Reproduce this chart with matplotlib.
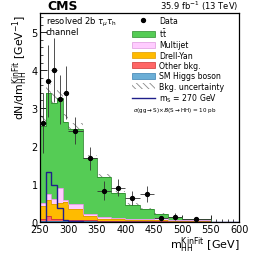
import numpy as np
import matplotlib
matplotlib.use("Agg")
import matplotlib.pyplot as plt
from matplotlib.patches import Patch
from matplotlib.lines import Line2D

# ---------------- data ----------------
edges = [250, 260, 270, 280, 290, 300, 325, 350, 375, 400, 425, 450, 475, 500, 550, 600]
higgs = [0.01, 0.01, 0.01, 0.01, 0.01, 0.01, 0.01, 0.005, 0.005, 0.005, 0.005, 0.003, 0.003, 0.002, 0.0]
other = [0.06, 0.13, 0.05, 0.06, 0.03, 0.03, 0.02, 0.015, 0.015, 0.01, 0.01, 0.007, 0.007, 0.003, 0.0]
dy = [0.35, 0.44, 0.40, 0.43, 0.49, 0.29, 0.12, 0.06, 0.05, 0.035, 0.035, 0.02, 0.013, 0.005, 0.0]
multijet = [0.08, 0.14, 0.14, 0.38, 0.04, 0.13, 0.06, 0.03, 0.03, 0.02, 0.02, 0.06, 0.03, 0.02, 0.0]
ttbar = [2.03, 2.67, 2.52, 2.39, 2.07, 1.99, 1.47, 1.08, 0.65, 0.37, 0.25, 0.11, 0.077, 0.03, 0.0]
bkg_unc = [0.3, 0.25, 0.28, 0.2, 0.2, 0.15, 0.07, 0.06, 0.05, 0.04, 0.03, 0.03, 0.02, 0.02, 0.0]
signal = [0.0, 1.3, 0.97, 0.35, 0.03, 0.01, 0.0, 0.0, 0.0, 0.0, 0.0, 0.0, 0.0, 0.0, 0.0]
data_vals = [2.6, 3.7, 4.0, 3.23, 3.4, 2.4, 1.67, 0.82, 0.90, 0.62, 0.73, 0.09, 0.13, 0.07]
data_err = [0.8, 0.95, 0.85, 0.65, 0.7, 0.35, 0.3, 0.26, 0.23, 0.18, 0.22, 0.07, 0.1, 0.05]

# ---------------- figure ----------------
W, H = 266, 255
fig = plt.figure(figsize=(W / 100, H / 100), dpi=100)
ax = fig.add_axes([0.150, 0.127, 0.749, 0.817])

e = np.array(edges, dtype=float)
comps = [
    (higgs, "#6baed6", "#3a7fb0"),
    (other, "#ff6666", "#cc3333"),
    (dy, "#ffbb00", "#dd9900"),
    (multijet, "#ffccff", "#dd99dd"),
    (ttbar, "#55cc55", "#2e8b2e"),
]
bottom = np.zeros(len(e) - 1)
for vals, fc, ec in comps:
    v = np.array(vals)
    ax.stairs(bottom + v, e, baseline=bottom, fill=True, facecolor=fc,
              edgecolor="none", zorder=2)
    ax.stairs(bottom + v, e, baseline=None, color=ec, lw=0.6, zorder=2.1)
    bottom = bottom + v
total = bottom
unc = np.array(bkg_unc)
plt.rcParams["hatch.linewidth"] = 0.6
ax.stairs(total + unc, e, baseline=total - unc, fill=True, facecolor="none",
          edgecolor="#888888", hatch="\\\\\\\\", lw=0, zorder=1.5)

# signal
ax.stairs(signal, e, baseline=None, color="#1f1f8a", lw=1.0, zorder=3)

# data
n = len(data_vals)
centers = 0.5 * (e[:-1] + e[1:])[:n]
halfw = 0.5 * (e[1:] - e[:-1])[:n]
ax.errorbar(centers, data_vals, yerr=data_err, xerr=halfw, fmt="o", ms=2.8,
            color="black", ecolor="#333333", elinewidth=0.6, capsize=0, zorder=4)

ax.set_xlim(250, 600)
ax.set_ylim(0, 5.5)
ax.set_xticks([250, 300, 350, 400, 450, 500, 550, 600])
ax.set_xticks(np.arange(250, 601, 10), minor=True)
ax.set_yticks([0, 1, 2, 3, 4, 5])
ax.set_yticks(np.arange(0, 5.5, 0.2), minor=True)
ax.tick_params(axis="both", which="major", direction="in", length=5, width=0.6,
               labelsize=7, pad=1.5, top=False, right=False)
ax.tick_params(axis="both", which="minor", direction="in", length=2.5, width=0.5,
               top=False, right=False)
for s in ax.spines.values():
    s.set_linewidth(0.9)

ax.set_xlabel(r"m$_{\rm HH}^{\rm KinFit}$ [GeV]", fontsize=8, loc="right", labelpad=0.5)
ax.set_ylabel(r"dN/dm$_{\rm HH}^{\rm KinFit}$ [GeV$^{-1}$]", fontsize=7.8, loc="top", labelpad=1)

fig.text(47 / W, 1 - 10 / H, "CMS", fontsize=9, fontweight="bold", ha="left", va="baseline")
fig.text(238 / W, 1 - 10 / H, r"35.9 fb$^{-1}$ (13 TeV)", fontsize=6.0, ha="right", va="baseline")
fig.text(46 / W, 1 - 24.5 / H, r"resolved 2b $\tau_{\mu}\tau_{\rm h}$", fontsize=6.0,
         va="baseline", ha="left")
fig.text(46 / W, 1 - 35 / H, "channel", fontsize=6.0, va="baseline", ha="left")

handles = [
    Line2D([], [], marker="o", ms=2.8, color="black", ls="none"),
    Patch(facecolor="#55cc55", edgecolor="#2e8b2e", lw=0.5),
    Patch(facecolor="#ffccff", edgecolor="#dd99dd", lw=0.5),
    Patch(facecolor="#ffbb00", edgecolor="#dd9900", lw=0.5),
    Patch(facecolor="#ff6666", edgecolor="#cc3333", lw=0.5),
    Patch(facecolor="#6baed6", edgecolor="#3a7fb0", lw=0.5),
    Patch(facecolor="white", edgecolor="#888888", hatch="\\\\\\\\\\", lw=0),
    Line2D([], [], color="#1f1f8a", lw=1.0),
]
labels = ["Data", r"t$\bar{\rm t}$", "Multijet", "Drell-Yan", "Other bkg.",
          "SM Higgs boson", "Bkg. uncertainty", r"m$_{\rm S}$ = 270 GeV"]
leg = fig.legend(handles, labels, loc="upper left", bbox_to_anchor=(132 / W, 1 - 17 / H),
                 fontsize=5.6, frameon=False, handlelength=2.9, handleheight=0.85,
                 labelspacing=0.17, handletextpad=0.55, borderaxespad=0, borderpad=0)
fig.text(133 / W, 1 - 112 / H,
         r"$\sigma$(gg$\rightarrow$S)$\times\mathcal{B}$(S$\rightarrow$HH) = 10 pb",
         fontsize=4.1, va="baseline", ha="left")

fig.savefig("out.png", dpi=100)
